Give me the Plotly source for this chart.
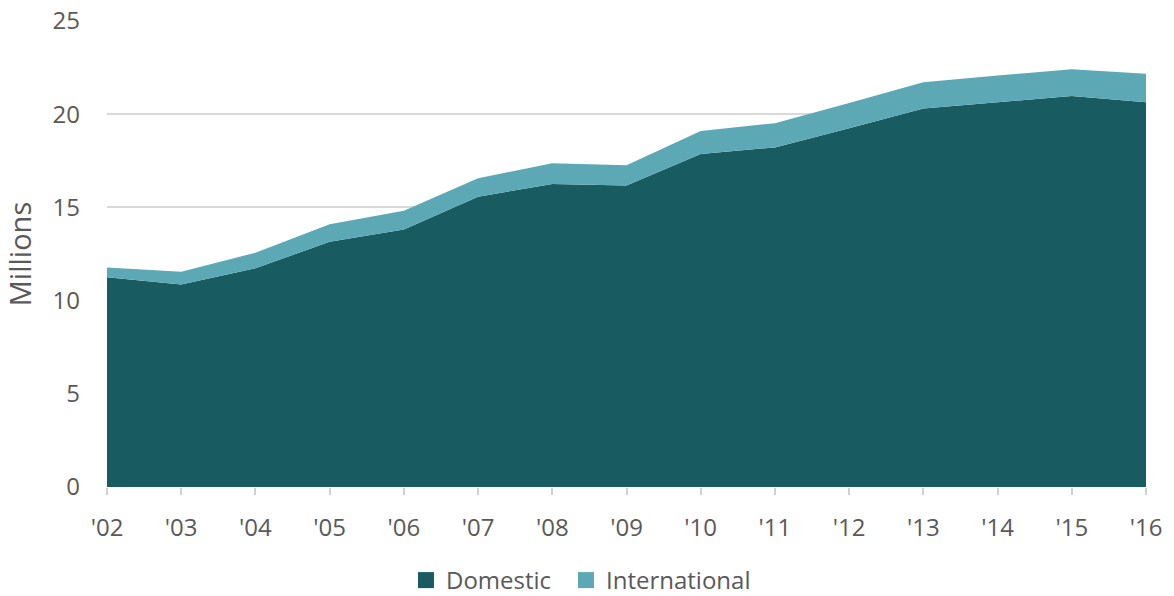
import plotly.graph_objects as go

# Passengers by year, in millions
years = ["'02", "'03", "'04", "'05", "'06", "'07", "'08", "'09",
         "'10", "'11", "'12", "'13", "'14", "'15", "'16"]
domestic = [11.25, 10.87, 11.73, 13.16, 13.82, 15.57, 16.26, 16.18,
            17.86, 18.22, 19.25, 20.31, 20.64, 20.98, 20.64]
international = [0.52, 0.68, 0.84, 0.93, 1.00, 0.99, 1.11, 1.08,
                 1.24, 1.30, 1.35, 1.40, 1.43, 1.43, 1.53]

DOM_COLOR = "#185c62"
INT_COLOR = "#5ca8b5"
FONT = "Open Sans"
TEXT = "#595959"

fig = go.Figure()

series = [("Domestic", domestic, DOM_COLOR, "legend"),
          ("International", international, INT_COLOR, "legend2")]

for name, vals, color, leg in series:
    fig.add_trace(go.Scatter(
        x=years, y=vals, name=name, stackgroup="one", mode="lines",
        line=dict(width=0, color=color), fillcolor=color,
        showlegend=False, hoverinfo="x+y+name",
    ))
    # square legend swatch
    fig.add_trace(go.Scatter(
        x=[None], y=[None], name=name, mode="markers",
        marker=dict(symbol="square", size=18, color=color),
        showlegend=True, legend=leg,
    ))

legend_common = dict(orientation="h", xref="container", xanchor="left",
                     yref="container", y=0.026, yanchor="middle",
                     font=dict(size=24, color=TEXT), itemwidth=30,
                     bgcolor="rgba(0,0,0,0)")

fig.update_layout(
    width=1174, height=596,
    margin=dict(l=107, r=28, t=21, b=109),
    paper_bgcolor="white", plot_bgcolor="white",
    font=dict(family=FONT, size=24, color=TEXT),
    legend=dict(x=0.3458, **legend_common),
    legend2=dict(x=0.4821, **legend_common),
    showlegend=True,
)

fig.update_xaxes(
    type="category", range=[0, len(years) - 1], automargin=False,
    showgrid=False, zeroline=False, showline=False,
    ticks="outside", ticklen=7, tickcolor="#d0d0d0", tickwidth=2,
    ticklabelstandoff=12,
    tickfont=dict(size=24, color=TEXT),
)
fig.update_yaxes(
    range=[0, 25], dtick=5, showgrid=True, gridcolor="#d9d9d9", gridwidth=2,
    zeroline=False, showline=False, ticks="", ticklabelstandoff=26,
    automargin=False,
    tickfont=dict(size=24, color=TEXT),
    title=dict(text="Millions", font=dict(size=29, color=TEXT), standoff=22),
)

fig.write_html("out.html")
